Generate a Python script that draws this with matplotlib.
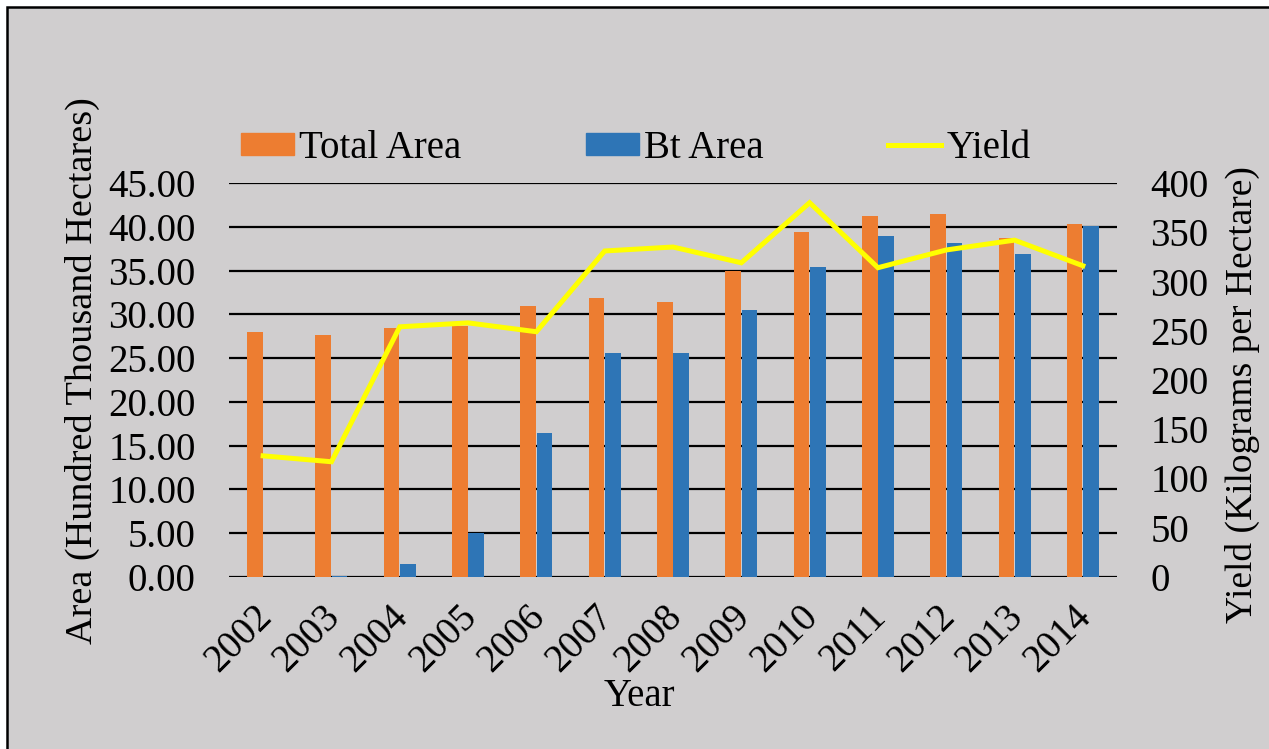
import numpy as np
import matplotlib.pyplot as plt
import matplotlib.patches as mpatches
import matplotlib.transforms as mtransforms
from matplotlib.lines import Line2D

plt.rcParams['font.family'] = ['Liberation Serif', 'DejaVu Serif']

years = ['2002', '2003', '2004', '2005', '2006', '2007', '2008',
         '2009', '2010', '2011', '2012', '2013', '2014']
total_area = [28.0, 27.6, 28.4, 28.7, 31.0, 31.9, 31.4,
              35.0, 39.4, 41.2, 41.45, 38.7, 40.3]
bt_area = [0.0, 0.15, 1.5, 5.0, 16.5, 25.6, 25.6,
           30.5, 35.4, 38.9, 38.1, 36.85, 40.05]
yield_kg = [123, 117, 254, 258, 249, 331, 335,
            319, 380, 314, 332, 342, 316]

orange = '#ED7D31'
blue = '#2E75B6'
yellow = '#FFFF00'
bg = '#D0CECF'

W, H = 1269, 749
fig = plt.figure(figsize=(W / 100, H / 100), dpi=100, facecolor='white')

# grey panel with black border on top/left
panel = mpatches.Rectangle((7 / W, -0.05), 1.1, 1 - 7 / H + 0.05,
                           transform=fig.transFigure, facecolor=bg,
                           edgecolor='black', linewidth=1.8, zorder=-5)
fig.patches.append(panel)

ax = fig.add_axes([229 / W, 1 - 577 / H, (1117 - 229) / W, (577 - 183) / H])
ax.set_facecolor('none')
ax2 = ax.twinx()

x = np.arange(len(years))
w = 0.228
ax.bar(x - w / 2 - 0.006, total_area, w, color=orange, zorder=3)
ax.bar(x + w / 2 + 0.006, bt_area, w, color=blue, zorder=3)

ax.set_ylim(0, 45)
ax.set_yticks(np.arange(0, 46, 5))
ax.set_yticklabels(['%.2f' % v for v in np.arange(0, 46, 5)])
ax.set_xlim(-0.5, len(years) - 0.5)
ax.set_xticks(x)
ax.set_xticklabels([])

# slanted year labels under each category
fs = 28
lab_tr = (ax.get_xaxis_transform() +
          mtransforms.ScaledTranslation(-0.10, -0.21, fig.dpi_scale_trans))
for xi, yr in zip(x, years):
    ax.text(xi, 0, yr, transform=lab_tr, rotation=45, ha='right', va='top',
            rotation_mode='anchor', fontsize=fs)

ax.grid(axis='y', color='black', linewidth=1.6, zorder=1)
ax.set_axisbelow(True)
for s in ax.spines.values():
    s.set_visible(False)
for s in ax2.spines.values():
    s.set_visible(False)

ax2.plot(x, yield_kg, color=yellow, linewidth=3.6, zorder=4,
         solid_joinstyle='miter')
ax2.set_ylim(0, 400)
ax2.set_yticks(np.arange(0, 401, 50))

ax.tick_params(axis='y', length=0, pad=24, labelsize=fs)
ax.tick_params(axis='x', length=0)
ax2.tick_params(axis='y', length=0, pad=24, labelsize=fs)

ax.set_ylabel('Area (Hundred Thousand Hectares)', fontsize=27.5, labelpad=6)
ax2.set_ylabel('Yield (Kilograms per Hectare)', fontsize=27, labelpad=12)
ax.yaxis.label.set_y(0.525)
ax2.yaxis.label.set_y(0.462)
fig.text(639 / W, 1 - 697 / H, 'Year', ha='center', va='center', fontsize=fs)

handles = [mpatches.Patch(color=orange, label='Total Area'),
           mpatches.Patch(color=blue, label='Bt Area'),
           Line2D([0], [0], color=yellow, linewidth=3.6, label='Yield')]
fig.legend(handles=handles, loc='center left',
           bbox_to_anchor=(241 / W, 1 - 148 / H), ncol=3, frameon=False,
           fontsize=fs, borderpad=0, borderaxespad=0, handlelength=1.35,
           handleheight=0.5, handletextpad=0.15, columnspacing=3.2)

fig.savefig('out.png', dpi=100, facecolor='white')
